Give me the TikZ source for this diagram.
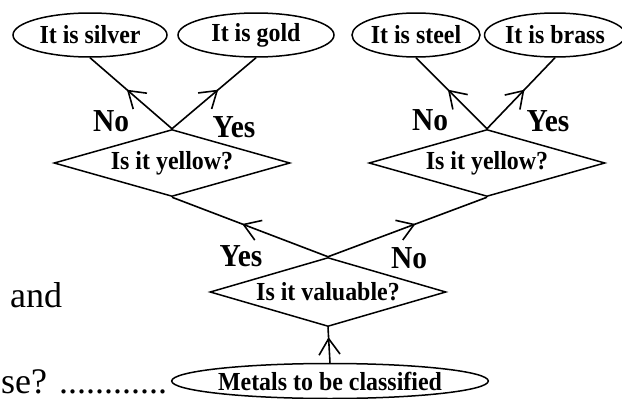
\documentclass[tikz,border=0pt]{standalone}
\usepackage{fontspec}
\setmainfont{Liberation Serif}
\newfontfamily\chartfont[FakeStretch=0.92]{Liberation Serif}
\usetikzlibrary{shapes.geometric,arrows.meta,decorations.markings}

\tikzset{
  chartlabel/.style={font=\chartfont\fontsize{26}{30}\selectfont\bfseries},
  outcome/.style={ellipse, draw, line width=1.5pt, inner sep=0pt,
    minimum height=44pt, chartlabel},
  % the diamond itself is empty, so its size comes from the minimum sizes only;
  % the question is set as a centred label
  question/.style={diamond, draw, line width=1.5pt, inner sep=0pt, aspect=3.5,
    minimum width=236pt, minimum height=67pt,
    label={[chartlabel, inner sep=0pt]center:#1}},
  answer/.style={anchor=base, inner sep=0pt,
    font=\chartfont\fontsize{32}{36}\selectfont\bfseries},
  flow/.style={line width=1.6pt, postaction={decorate},
    decoration={markings, mark=at position #1 with
      {\arrow{Straight Barb[length=16pt, width=21pt, line width=1.6pt]}}}},
  flow/.default=0.55,
  prose/.style={anchor=base west, inner sep=0pt,
    font=\fontsize{36}{40}\selectfont}
}

\begin{document}
\begin{tikzpicture}[x=1pt, y=1pt]
  \useasboundingbox (0,0) rectangle (622,-399);

  % final classifications
  \node[outcome, minimum width=154pt] (silver) at (90,-35)  {It is silver};
  \node[outcome, minimum width=156pt] (gold)   at (256,-35) {It is gold};
  \node[outcome, minimum width=128pt] (steel)  at (416,-35) {It is steel};
  \node[outcome, minimum width=126pt] (brass)  at (555,-35) {It is brass};

  % decisions
  \node[question={Is it yellow?}] (yellowA) at (172,-163) {};
  \node[question={Is it yellow?}] (yellowB) at (487,-163) {};
  \node[question={Is it valuable?}, minimum height=69pt] (valuable) at (328,-292) {};

  % starting point
  \node[outcome, minimum width=296pt, minimum height=35pt] (metals) at (330,-381) {Metals to be classified};

  % connectors
  \draw[flow] (yellowA.north) -- (silver.south);
  \draw[flow] (yellowA.north) -- (gold.south);
  \draw[flow] (yellowB.north) -- (steel.south);
  \draw[flow] (yellowB.north) -- (brass.south);
  \draw[flow] (valuable.north) -- (yellowA.south);
  \draw[flow] (valuable.north) -- (yellowB.south);
  \draw[flow=0.72] (metals.north) -- (valuable.south);

  % branch labels
  \node[answer] (noA)  at (111,-131) {No};
  \node[answer] (yesA) at (234,-137) {Yes};
  \node[answer] (noB)  at (430,-130) {No};
  \node[answer] (yesB) at (548,-131) {Yes};
  \node[answer] (yesV) at (241,-266) {Yes};
  \node[answer] (noV)  at (409,-268) {No};

  % surrounding text
  \node[prose] (and) at (10,-307) {and};
  \node[prose] (ask) at (1,-393) {se? ............};
\end{tikzpicture}
\end{document}
